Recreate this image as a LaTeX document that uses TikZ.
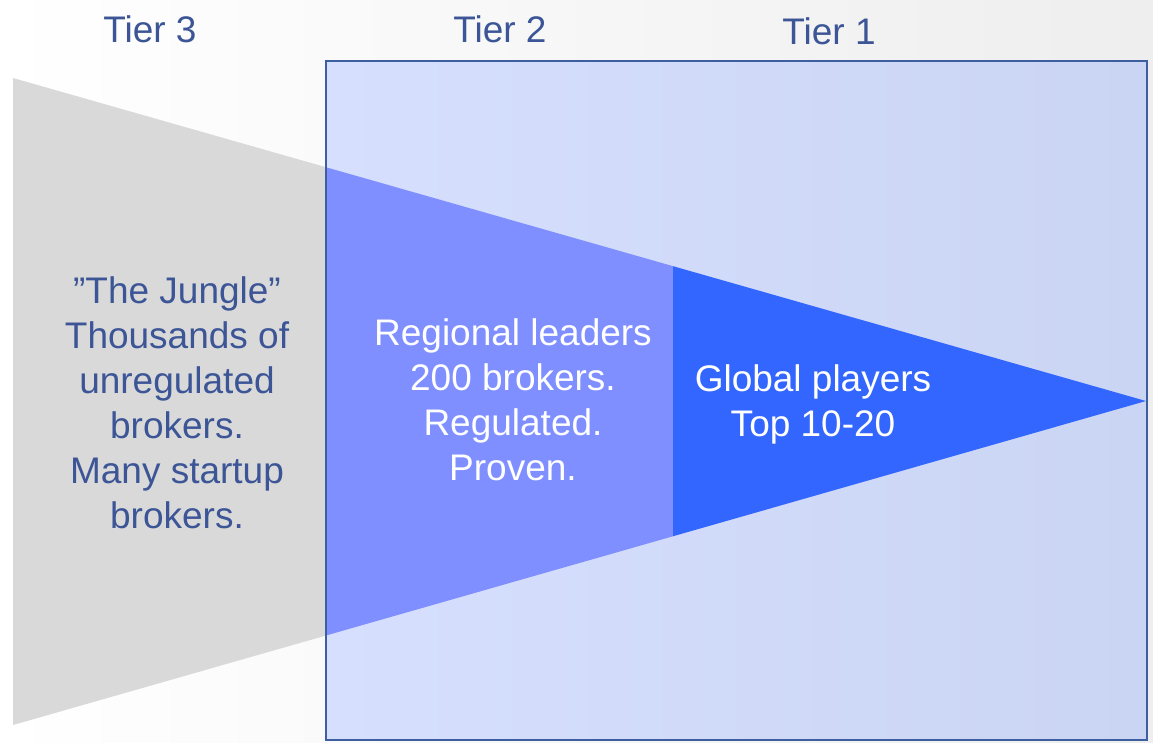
\documentclass[tikz,border=0pt]{standalone}
\usepackage{fontspec}
\setmainfont{Liberation Sans}
\usetikzlibrary{calc}
\definecolor{grayfill}{HTML}{D9D9D9}
\definecolor{midblue}{HTML}{7F8FFF}
\definecolor{darkblue}{HTML}{3366FF}
\definecolor{rectA}{HTML}{D6E0FE}
\definecolor{rectB}{HTML}{CAD5F3}
\definecolor{rectline}{HTML}{3D5F9F}
\definecolor{txtblue}{HTML}{3C5596}
\definecolor{bgright}{HTML}{EEEEEE}
\tikzset{
  label37/.style={font=\fontsize{37}{45}\selectfont, align=center, inner sep=0pt, anchor=base},
  tierlabel/.style={label37, text=txtblue},
  graytext/.style={label37, text=txtblue},
  whitetext/.style={label37, text=white},
}
\begin{document}
\begin{tikzpicture}[x=1pt,y=-1pt]
\useasboundingbox (0,0) rectangle (1153,742);
% background
\shade[left color=white, middle color=white, right color=bgright] (0,0) rectangle (1153,742);
% key points
\coordinate (A) at (13,78);
\coordinate (B) at (13,725);
\coordinate (P) at (1146,401);
\coordinate (T1) at ($(A)!{313/1133}!(P)$);
\coordinate (B1) at ($(B)!{313/1133}!(P)$);
\coordinate (T2) at ($(A)!{660/1133}!(P)$);
\coordinate (B2) at ($(B)!{660/1133}!(P)$);
% gray trapezoid
\fill[grayfill] (A) -- (T1) -- (B1) -- (B) -- cycle;
% rectangle fill
\shade[left color=rectA, middle color=rectA, right color=rectB] (326,61) rectangle (1147,740);
% mid blue
\fill[midblue] (T1) -- (T2) -- (B2) -- (B1) -- cycle;
% dark blue triangle
\fill[darkblue] (T2) -- (P) -- (B2) -- cycle;
% rectangle border
\draw[rectline, line width=2pt] (326,61) rectangle (1147,740);
% labels (base anchor = baseline of the last line)
\node[tierlabel] (tier3) at (150,42) {Tier 3};
\node[tierlabel] (tier2) at (500,42) {Tier 2};
\node[tierlabel] (tier1) at (829,44) {Tier 1};
\node[graytext] (jungle) at (177,528) {”The Jungle”\\Thousands of\\unregulated\\brokers.\\Many startup\\brokers.};
\node[whitetext] (regional) at (513,480) {Regional leaders\\200 brokers.\\Regulated.\\Proven.};
\node[whitetext] (global) at (813,436) {Global players\\Top 10-20};
\end{tikzpicture}
\end{document}
